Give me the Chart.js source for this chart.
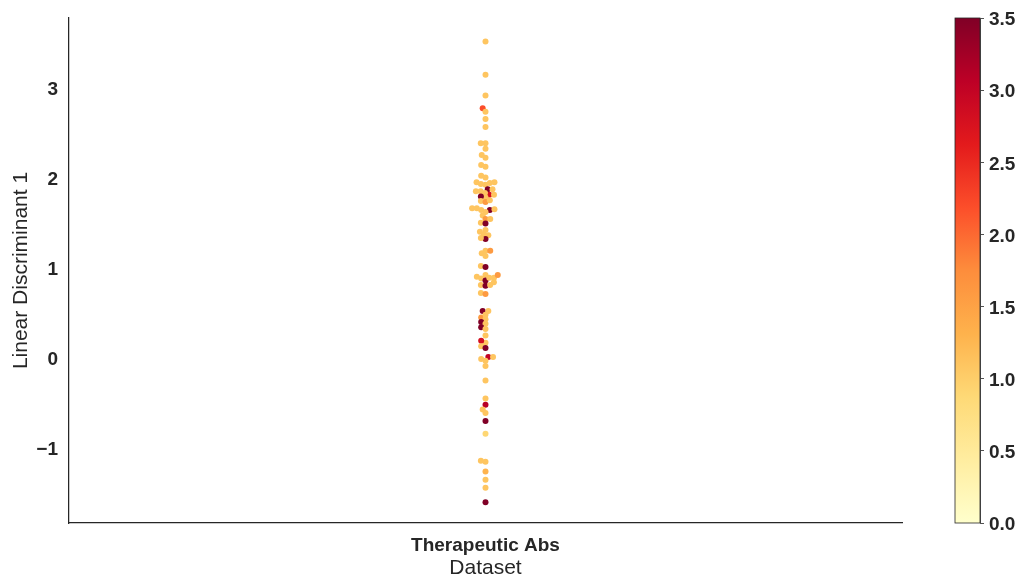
<!DOCTYPE html>
<html>
<head>
<meta charset="utf-8">
<script src="https://cdn.jsdelivr.net/npm/chart.js@4"></script>
<style>
  html, body { margin: 0; padding: 0; background: #fff; }
  #wrap { position: relative; width: 1021px; height: 575px; }
  #main { position: absolute; left: 0; top: 0; }
  #cbar { position: absolute; left: 930px; top: 0; }
</style>
</head>
<body>
<div id="wrap">
  <canvas id="main" width="1021" height="575"></canvas>
  <canvas id="cbar" width="91" height="575"></canvas>
</div>
<script>
// --- data ---
const category = 'Therapeutic Abs';
const ld1 = [
  3.51, 3.14, 2.91, 2.77, 2.73, 2.65, 2.56, 2.38, 2.38, 2.32,
  2.25, 2.22, 2.14, 2.12, 2.02, 2.00, 1.95, 1.94, 1.92, 1.93,
  1.95, 1.87, 1.85, 1.81, 1.83, 1.85, 1.87, 1.81, 1.78, 1.79,
  1.74, 1.73, 1.75, 1.66, 1.64, 1.64, 1.65, 1.66, 1.62, 1.58,
  1.54, 1.54, 1.50, 1.49, 1.40, 1.37, 1.42, 1.36, 1.32, 1.33,
  1.16, 1.19, 1.19, 1.13, 1.02, 1.01, 0.90, 0.92, 0.88, 0.86,
  0.89, 0.89, 0.92, 0.84, 0.81, 0.80, 0.81, 0.72, 0.71, 0.52,
  0.52, 0.45, 0.48, 0.43, 0.40, 0.38, 0.34, 0.32, 0.25, 0.17,
  0.19, 0.13, 0.11, 0.01, -0.03, -0.01, 0.01, -0.09, -0.25, -0.45,
  -0.52, -0.57, -0.61, -0.70, -0.84, -1.14, -1.15, -1.26, -1.35, -1.44, -1.60
];
const hue = [
  1.1, 1.1, 1.1, 2.2, 1.1, 1.1, 1.1, 1.1, 1.1, 1.1,
  1.1, 1.1, 1.1, 1.1, 1.1, 1.1, 1.1, 1.1, 1.1, 1.1,
  1.1, 3.5, 1.1, 2.8, 1.1, 1.1, 1.1, 1.1, 1.1, 3.5,
  1.1, 1.6, 1.1, 1.1, 1.1, 3.5, 1.1, 1.1, 1.1, 1.1,
  1.6, 1.1, 1.1, 3.5, 1.1, 1.1, 1.1, 1.1, 3.5, 1.1,
  1.1, 1.1, 1.6, 1.1, 1.1, 3.5, 1.1, 1.1, 1.1, 3.5,
  1.1, 1.1, 1.6, 1.1, 1.1, 3.5, 1.1, 1.1, 1.6, 3.5,
  1.1, 1.6, 1.1, 1.1, 3.5, 1.1, 3.5, 1.1, 1.1, 1.1,
  2.8, 1.1, 3.5, 3.0, 1.1, 1.1, 1.1, 1.1, 1.1, 1.1,
  3.1, 1.1, 1.1, 3.5, 0.9, 1.1, 1.1, 1.3, 1.1, 1.1, 3.5
];
const yTicks = [-1, 0, 1, 2, 3];
const hueMin = 0, hueMax = 3.5;

// YlOrRd
const ylorrd = ['#ffffcc', '#ffeda0', '#fed976', '#feb24c', '#fd8d3c', '#fc4e2a', '#e31a1c', '#bd0026', '#800026'];
const hex = h => [1, 3, 5].map(i => parseInt(h.slice(i, i + 2), 16));
function cmap(t) {
  t = Math.min(1, Math.max(0, t));
  const p = t * (ylorrd.length - 1);
  const i = Math.min(Math.floor(p), ylorrd.length - 2);
  const f = p - i;
  const a = hex(ylorrd[i]), b = hex(ylorrd[i + 1]);
  const c = a.map((v, k) => Math.round(v + (b[k] - v) * f));
  return `rgb(${c[0]},${c[1]},${c[2]})`;
}

const FONT = "'Liberation Sans', Arial, sans-serif";
const INK = '#262626';
Chart.defaults.font.family = FONT;
Chart.defaults.color = INK;

const mainChart = new Chart(document.getElementById('main'), {
  type: 'scatter',
  data: {
    datasets: [{
      data: ld1.map(v => ({ x: 0, y: v })),
      backgroundColor: hue.map(h => cmap((h - hueMin) / (hueMax - hueMin))),
      pointRadius: 3,
      pointHoverRadius: 3,
      pointBorderWidth: 0
    }]
  },
  options: {
    responsive: false,
    animation: false,
    layout: { padding: { left: 0, right: 119, top: 18, bottom: 0 } },
    plugins: { legend: { display: false }, tooltip: { enabled: false } },
    scales: {
      x: {
        type: 'linear', min: -0.5, max: 0.5,
        afterBuildTicks: s => { s.ticks = [{ value: 0 }]; },
        afterFit: s => { s.height = 52; },
        ticks: { callback: () => category, font: { size: 19, weight: 'bold' }, color: INK, padding: 3, maxRotation: 0 },
        grid: { display: false },
        border: { color: INK, width: 1.25 },
        title: { display: true, text: 'Dataset', font: { size: 21, lineHeight: 0.66 }, color: INK, padding: 0 }
      },
      y: {
        min: -1.83, max: 3.77,
        afterBuildTicks: s => { s.ticks = yTicks.map(v => ({ value: v })); },
        afterFit: s => { s.width = 69; },
        ticks: { callback: v => (v < 0 ? '\u2212' + Math.abs(v) : String(v)), font: { size: 19, weight: 'bold' }, color: INK, padding: 3, labelOffset: 2 },
        grid: { display: false },
        border: { color: INK, width: 1.25 },
        title: { display: true, text: 'Linear Discriminant 1', font: { size: 21, lineHeight: 1 }, color: INK, padding: { top: 11, bottom: 0 } }
      }
    }
  }
});

// seaborn-style beeswarm layout, computed in pixel space from the scales
function swarm(chart, r) {
  const xs = chart.scales.x, ys = chart.scales.y;
  const mid = xs.getPixelForValue(0);
  const pts = ld1.map((v, i) => ({ i, y: -ys.getPixelForValue(v), x: mid }))
    .sort((a, b) => a.y - b.y || a.i - b.i);
  const placed = [];
  pts.forEach(p => {
    const nb = [];
    for (let j = placed.length - 1; j >= 0; j--) {
      if (p.y - placed[j].y < 2 * r) nb.push(placed[j]); else break;
    }
    let cands = [mid];
    let leftFirst = true;
    nb.forEach(n => {
      const dy = p.y - n.y;
      const dx = Math.sqrt(Math.max(4 * r * r - dy * dy, 0)) * 1.05;
      cands.push(...(leftFirst ? [n.x - dx, n.x + dx] : [n.x + dx, n.x - dx]));
      leftFirst = !leftFirst;
    });
    cands = cands.map((x, k) => ({ x, k }))
      .sort((a, b) => Math.abs(a.x - mid) - Math.abs(b.x - mid) || a.k - b.k)
      .map(c => c.x);
    const ok = cands.find(cx => nb.every(n => (n.x - cx) ** 2 + (n.y - p.y) ** 2 >= 4 * r * r));
    p.x = ok === undefined ? cands[0] : ok;
    placed.push(p);
  });
  const data = chart.data.datasets[0].data;
  pts.forEach(p => { data[p.i].x = xs.getValueForPixel(p.x); });
  chart.update('none');
}
swarm(mainChart, 2.25);

// colour bar
const cbarOutline = {
  id: 'cbarOutline',
  afterDatasetsDraw(chart) {
    const { ctx, chartArea: a } = chart;
    ctx.save();
    ctx.strokeStyle = INK;
    ctx.lineWidth = 0.8;
    ctx.strokeRect(a.left, a.top, a.right - a.left, a.bottom - a.top);
    ctx.restore();
  }
};

new Chart(document.getElementById('cbar'), {
  type: 'bar',
  data: {
    labels: ['hue'],
    datasets: [{
      data: [[hueMin, hueMax]],
      borderWidth: 0,
      categoryPercentage: 1,
      barPercentage: 1,
      backgroundColor: ctx => {
        const { ctx: c, chartArea } = ctx.chart;
        if (!chartArea) return ylorrd[0];
        const g = c.createLinearGradient(0, chartArea.bottom, 0, chartArea.top);
        ylorrd.forEach((col, k) => g.addColorStop(k / (ylorrd.length - 1), col));
        return g;
      }
    }]
  },
  options: {
    responsive: false,
    animation: false,
    layout: { padding: { left: 25, right: 0, top: 18, bottom: 52 } },
    plugins: { legend: { display: false }, tooltip: { enabled: false } },
    scales: {
      x: { display: false },
      y: {
        position: 'right',
        min: hueMin, max: hueMax,
        afterFit: s => { s.width = 41; },
        ticks: { stepSize: 0.5, callback: v => v.toFixed(1), font: { size: 19, weight: 'bold' }, color: INK, padding: 5, labelOffset: 2 },
        grid: { drawOnChartArea: false, drawTicks: true, tickLength: 4, color: INK, lineWidth: 0.8 },
        border: { color: INK, width: 0.8 }
      }
    }
  },
  plugins: [cbarOutline]
});
</script>
</body>
</html>
